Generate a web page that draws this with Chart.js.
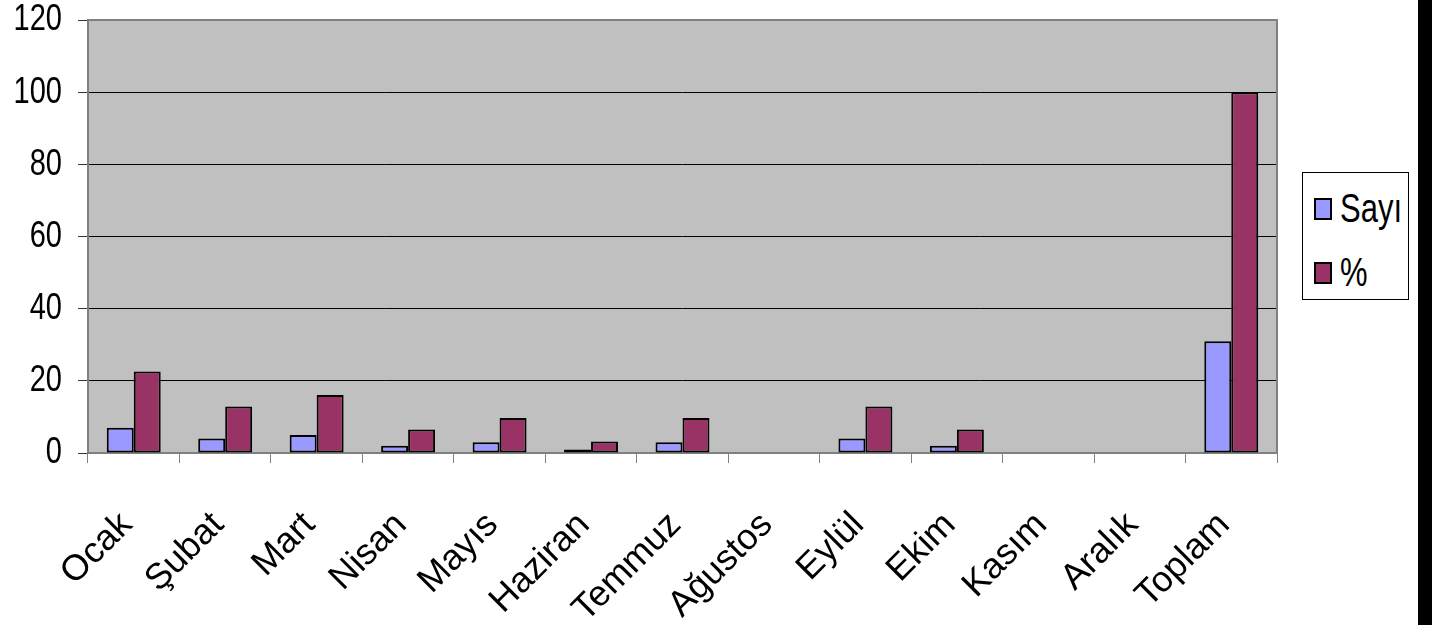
<!DOCTYPE html>
<html>
<head>
<meta charset="utf-8">
<script src="https://cdn.jsdelivr.net/npm/chart.js@4.4.1/dist/chart.umd.min.js"></script>
<style>
  html, body { margin: 0; padding: 0; background: #fff; }
  #wrap { position: relative; width: 1432px; height: 625px; overflow: hidden; background: #fff; }
  #c { position: absolute; left: 0; top: 0; }
  #strip { position: absolute; left: 1418px; top: 0; width: 14px; height: 625px; background: #000; }
  #legend { position: absolute; left: 1302px; top: 172px; width: 105px; height: 126px; border: 1px solid #000; background: #fff;
            font-family: "Liberation Sans", Arial, sans-serif; font-size: 31px; color: #000; }
  .li { position: absolute; left: 11px; height: 40px; display: flex; align-items: center; white-space: nowrap; }
  .sw { width: 14px; height: 18px; border: 2px solid #000; margin-right: 8px; box-sizing: content-box; }
  .tx { display: inline-block; transform: scaleY(1.3); transform-origin: 50% 50%; }
</style>
</head>
<body>
<div id="wrap">
  <canvas id="c" width="1432" height="625"></canvas>
  <div id="legend"></div>
  <div id="strip"></div>
</div>
<script>
const categories = ['Ocak', 'Şubat', 'Mart', 'Nisan', 'Mayıs', 'Haziran', 'Temmuz', 'Ağustos', 'Eylül', 'Ekim', 'Kasım', 'Aralık', 'Toplam'];
const seriesNames = ['Sayı', '%'];
const sayiValues = [7, 4, 5, 2, 3, 1, 3, 0, 4, 2, 0, 0, 31];
const yuzdeValues = [22.6, 12.9, 16.1, 6.5, 9.7, 3.2, 9.7, 0, 12.9, 6.5, 0, 0, 100];
const yMin = 0, yMax = 120, yStep = 20;

const seriesColors = ['#9999FF', '#993366'];
const FONT = '"Liberation Sans", Arial, sans-serif';
const TEXT_STRETCH = 1.3; // the reference's upright text is drawn vertically stretched

const plotFrame = {
  id: 'plotFrame',
  beforeDraw(chart) {
    const ctx = chart.ctx;
    if (!ctx._stretched) {
      const orig = ctx.fillText;
      ctx.fillText = function (t, x, y, mw) {
        const m = this.getTransform();
        if (Math.abs(m.b) > 1e-6 || Math.abs(m.c) > 1e-6) {
          if (mw === undefined) orig.call(this, t, x, y); else orig.call(this, t, x, y, mw);
          return;
        }
        this.save();
        this.translate(x, y);
        this.scale(1, TEXT_STRETCH);
        if (mw === undefined) orig.call(this, t, 0, 0); else orig.call(this, t, 0, 0, mw);
        this.restore();
      };
      ctx._stretched = true;
    }
    const a = chart.chartArea;
    ctx.save();
    ctx.fillStyle = '#C0C0C0';
    ctx.fillRect(a.left, a.top, a.right - a.left, a.bottom - a.top);
    ctx.restore();
  },
  beforeDatasetsDraw(chart) {
    const a = chart.chartArea, ctx = chart.ctx;
    ctx.save();
    ctx.strokeStyle = '#808080';
    ctx.lineWidth = 2;
    ctx.strokeRect(a.left, a.top, a.right - a.left, a.bottom - a.top);
    ctx.restore();
  }
};

const chart = new Chart(document.getElementById('c'), {
  type: 'bar',
  data: {
    labels: categories,
    datasets: [
      { label: seriesNames[0], data: sayiValues, backgroundColor: seriesColors[0], borderColor: '#000', borderWidth: 2, borderSkipped: false },
      { label: seriesNames[1], data: yuzdeValues, backgroundColor: seriesColors[1], borderColor: '#000', borderWidth: 2, borderSkipped: false }
    ]
  },
  options: {
    responsive: false,
    devicePixelRatio: 1,
    animation: false,
    layout: { padding: { top: 0, right: 155, left: 0, bottom: 0 } },
    plugins: { legend: { display: false }, tooltip: { enabled: false } },
    datasets: { bar: { categoryPercentage: 0.59, barPercentage: 1.0 } },
    scales: {
      x: {
        grid: { drawOnChartArea: false, offset: true, tickLength: 10, color: '#808080', lineWidth: 1 },
        border: { display: false },
        ticks: { minRotation: 45, maxRotation: 45, autoSkip: false, padding: 41, labelOffset: -7, color: '#000', font: { family: FONT, size: 36 } },
        afterFit(s) { s.height = 172; }
      },
      y: {
        min: yMin, max: yMax,
        ticks: { stepSize: yStep, padding: 16, color: '#000', font: { family: FONT, size: 29 } },
        grid: {
          tickLength: 10,
          color: (c) => (c.tick && (c.tick.value === yMin || c.tick.value === yMax)) ? 'rgba(0,0,0,0)' : '#000',
          tickColor: '#333',
          lineWidth: 1
        },
        border: { display: false },
        afterFit(s) { s.width = 88; s.paddingTop = 20; }
      }
    }
  },
  plugins: [plotFrame]
});

// legend built from the dataset names and colours
const lg = document.getElementById('legend');
chart.data.datasets.forEach((ds, i) => {
  const row = document.createElement('div');
  row.className = 'li';
  row.style.top = (16 + i * 63.5) + 'px';
  const sw = document.createElement('span');
  sw.className = 'sw';
  sw.style.background = ds.backgroundColor;
  const tx = document.createElement('span');
  tx.className = 'tx';
  tx.textContent = ds.label;
  row.appendChild(sw); row.appendChild(tx);
  lg.appendChild(row);
});
</script>
</body>
</html>
